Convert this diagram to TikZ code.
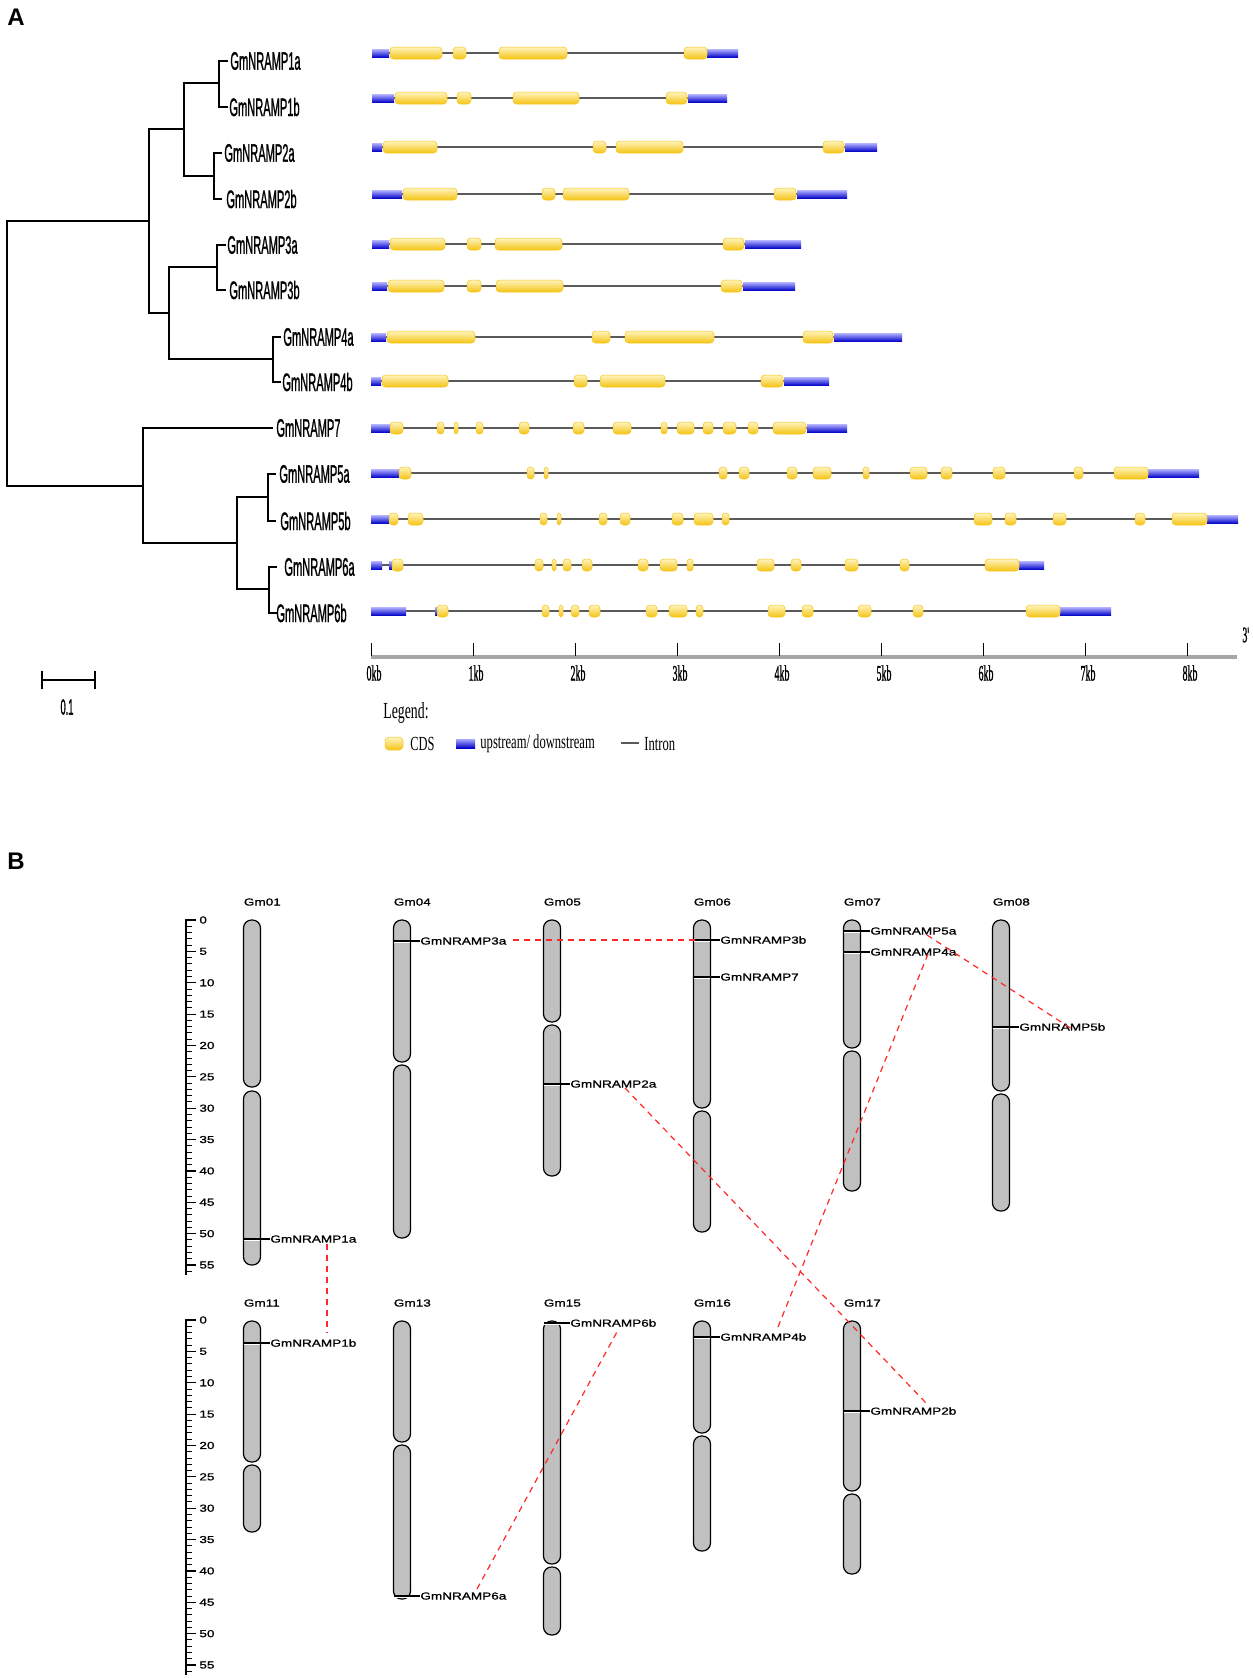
\documentclass[tikz,border=0pt]{standalone}
\usepackage{graphicx}
\usepackage{fontspec}
\setmainfont{Liberation Sans}
\newfontfamily\serifx{Liberation Serif}
\newfontfamily\treefont[FakeBold=1.6]{Liberation Sans}
\newfontfamily\kbfont[FakeBold=1.5]{Liberation Serif}
\newfontfamily\chrfont[FakeBold=0.8]{Liberation Sans}
\definecolor{cdstop}{RGB}{255,244,190}
\definecolor{cdsbot}{RGB}{245,196,20}
\definecolor{utrtop}{RGB}{170,170,255}
\definecolor{utrbot}{RGB}{0,0,200}
\definecolor{introngray}{RGB}{90,90,90}
\definecolor{chromgray}{RGB}{192,192,192}
\definecolor{linkred}{RGB}{255,40,40}
\newcommand{\tl}[1]{\scalebox{0.44}[1]{\treefont\fontsize{12.6}{14}\selectfont #1}}
\newcommand{\kbl}[1]{\scalebox{0.45}[1]{\kbfont\fontsize{11}{12}\selectfont #1}}
\newcommand{\lgl}[2]{\scalebox{#1}[1]{\serifx\fontsize{10}{12}\selectfont #2}}
\newcommand{\bl}[1]{\scalebox{1.33}[1]{\chrfont\fontsize{5.1}{6}\selectfont #1}}
\tikzset{
  tree/.style={line width=1pt, black},
  intron/.style={line width=0.9pt, introngray},
  cdsbox/.style={top color=cdstop, bottom color=cdsbot, draw=cdsbot, line width=0.25pt},
  utrbar/.style={top color=utrtop, bottom color=utrbot},
  chromo/.style={fill=chromgray, draw=black, line width=0.6pt, rounded corners=4pt},
  link/.style={linkred, dash pattern=on 3pt off 2.5pt, line width=0.6pt},
  tlab/.style={anchor=west, inner sep=0pt},
  blab/.style={anchor=west, inner sep=0pt},
  genetick/.style={black, line width=0.6pt},
}
\newcommand{\generow}[5]{%
  \draw[intron] (#2,#1) -- (#3,#1);
  \foreach \a/\b in {#4} {\shade[utrbar] (\a,#1-3.5) rectangle (\b,#1+4.5);}
  \foreach \a/\b in {#5} {\pgfmathsetmacro\rr{min(1.8,(\b-\a)/4.2)}
    \draw[cdsbox, rounded corners=\rr pt] (\a,#1-6) rectangle (\b,#1+6);}
}
\newcommand{\chromosome}[5]{%
  \draw[chromo] (#1-8.5,#2) rectangle (#1+8.5,#3);
  \draw[chromo] (#1-8.5,#4) rectangle (#1+8.5,#5);
}
\newcommand{\genemark}[4]{% x center, y, name, text
  \draw[white, line width=0.4pt] (#1-8,#2+1.4) -- (#1+8,#2+1.4);
  \draw[genetick] (#1-8.5,#2) -- (#1+17.5,#2);
  \node[blab] (#3) at (#1+18,#2) {\bl{#4}};
}
\newcommand{\ruler}[1]{%
  \draw[black, line width=0.6pt] (186,#1-1) -- (186,#1+355);
  \foreach \i in {0,...,56} {\draw[black, line width=0.5pt] (186,#1+\i*6.273) -- (192,#1+\i*6.273);}
  \foreach \i in {0,5,...,55} {\draw[black, line width=0.6pt] (186,#1+\i*6.273) -- (196,#1+\i*6.273);
    \node[blab] at (199,#1+\i*6.273) {\bl{\i}};}
}
\begin{document}
\begin{tikzpicture}[x=0.5pt,y=-0.5pt]
\useasboundingbox[fill=white] (0,0) rectangle (1253,1678);
% ---------- Panel A ----------
\node[font=\bfseries\fontsize{12}{14}\selectfont, inner sep=0pt] (A) at (16,17) {A};
% tree
\draw[tree] (143,221) -- (7,221) -- (7,486) -- (143,486);
\draw[tree] (7,221) -- (149,221);
\draw[tree] (184,129) -- (149,129) -- (149,313) -- (169,313);
\draw[tree] (219,83) -- (184,83) -- (184,176) -- (214,176);
\draw[tree] (228,61) -- (219,61) -- (219,107) -- (228,107);
\draw[tree] (222,153) -- (214,153) -- (214,199) -- (222,199);
\draw[tree] (217,267) -- (169,267) -- (169,359) -- (273,359);
\draw[tree] (226,245) -- (217,245) -- (217,290) -- (226,290);
\draw[tree] (281,337) -- (273,337) -- (273,382) -- (281,382);
\draw[tree] (273,428) -- (143,428) -- (143,543) -- (237,543);
\draw[tree] (268,497) -- (237,497) -- (237,589) -- (269,589);
\draw[tree] (276,474) -- (268,474) -- (268,521) -- (276,521);
\draw[tree] (277,567) -- (269,567) -- (269,613) -- (277,613);
\node[tlab] (t1a) at (230,61) {\tl{GmNRAMP1a}};
\node[tlab] (t1b) at (229,107) {\tl{GmNRAMP1b}};
\node[tlab] (t2a) at (224,153) {\tl{GmNRAMP2a}};
\node[tlab] (t2b) at (226,199) {\tl{GmNRAMP2b}};
\node[tlab] (t3a) at (227,245) {\tl{GmNRAMP3a}};
\node[tlab] (t3b) at (229,290) {\tl{GmNRAMP3b}};
\node[tlab] (t4a) at (283,337) {\tl{GmNRAMP4a}};
\node[tlab] (t4b) at (282,382) {\tl{GmNRAMP4b}};
\node[tlab] (t7)  at (276,428) {\tl{GmNRAMP7}};
\node[tlab] (t5a) at (279,474) {\tl{GmNRAMP5a}};
\node[tlab] (t5b) at (280,521) {\tl{GmNRAMP5b}};
\node[tlab] (t6a) at (284,567) {\tl{GmNRAMP6a}};
\node[tlab] (t6b) at (276,613) {\tl{GmNRAMP6b}};
% scale bar
\draw[tree, line width=1.3pt] (42,680) -- (95,680);
\draw[tree, line width=0.6pt] (42,671) -- (42,689);
\draw[tree, line width=0.6pt] (95,671) -- (95,689);
\node[inner sep=0pt] (sb) at (67,707) {\scalebox{0.42}[1]{\treefont\fontsize{11}{12}\selectfont 0.1}};
% gene structures
\generow{53}{372}{738}{372/389,707/738}{390/442,453/466,499/567,684/707}
\generow{98}{372}{727}{372/394,688/727}{395/447,457/471,513/579,666/687}
\generow{147}{372}{877}{372/382,845/877}{383/437,593/606,616/683,823/844}
\generow{194}{372}{847}{372/402,797/847}{403/457,542/555,563/629,774/796}
\generow{244}{372}{801}{372/389,745/801}{390/445,467/481,495/562,723/744}
\generow{286}{372}{795}{372/387,743/795}{388/444,467/481,496/563,721/742}
\generow{337}{371}{902}{371/386,834/902}{387/475,592/610,625/714,803/833}
\generow{381}{371}{829}{371/381,784/829}{382/448,574/587,600/665,761/783}
\generow{428}{371}{847}{371/390,807/847}{390/403,437/444,454/458,476/483,519/529,573/584,613/631,661/667,677/694,703/713,723/736,748/758,773/806}
\generow{473}{371}{1199}{371/399,1148/1199}{399/411,527/534,544/548,719/727,739/749,787/797,813/831,863/869,910/927,941/952,993/1005,1074/1083,1114/1148}
\generow{519}{371}{1238}{371/389,1207/1238}{389/398,408/423,540/547,557/561,599/607,620/630,672/683,694/713,722/729,974/992,1005/1016,1053/1066,1135/1145,1172/1207}
\draw[black, line width=1pt] (518,565) -- (552,565);
\generow{565}{371}{1044}{371/382,389/392,1019/1044}{392/403,535/543,552/556,563/571,582/592,638/648,660/677,687/693,757/774,791/801,845/858,900/909,985/1019}
\generow{611}{371}{1111}{371/406,435/437,1060/1111}{437/448,542/549,559/563,571/579,589/600,646/657,669/687,696/703,768/785,802/813,858/871,913/923,1026/1060}
% axis
\draw[line width=1.8pt, gray!70] (371,657) -- (1237,657);
\foreach \k in {0,...,8} {
  \draw[black, line width=0.5pt] (371+\k*102,643) -- (371+\k*102,656);
  \node[inner sep=0pt] at (374+\k*102,673) {\kbl{\k kb}};
}
\node[tlab] (three) at (1242,635) {\kbl{3'}};
% legend
\node[tlab] (leg) at (383,713) {\lgl{0.6}{\fontsize{11.5}{13}\selectfont Legend:}};
\draw[cdsbox, rounded corners=2pt] (385,737) rectangle (403,750);
\node[tlab] (lcds) at (410,744) {\lgl{0.62}{CDS}};
\shade[utrbar] (456,739) rectangle (475,748);
\node[tlab] (lutr) at (480,744) {\lgl{0.63}{upstream/ downstream}};
\draw[intron, line width=1.2pt] (621,743) -- (639,743);
\node[tlab] (lint) at (644,744) {\lgl{0.63}{Intron}};
% ---------- Panel B ----------
\node[font=\bfseries\fontsize{12}{14}\selectfont, inner sep=0pt] (B) at (16,861) {B};
\ruler{920}
\ruler{1320}
% chromosomes row 1
\chromosome{252}{920}{1087}{1091}{1265}
\chromosome{402}{920}{1062}{1065}{1238}
\chromosome{552}{920}{1022}{1025}{1176}
\chromosome{702}{920}{1108}{1111}{1232}
\chromosome{852}{920}{1048}{1051}{1191}
\chromosome{1001}{920}{1091}{1094}{1211}
% chromosomes row 2
\chromosome{252}{1321}{1462}{1465}{1532}
\chromosome{402}{1321}{1442}{1445}{1599}
\chromosome{552}{1321}{1564}{1567}{1635}
\chromosome{702}{1321}{1433}{1436}{1551}
\chromosome{852}{1321}{1491}{1494}{1574}
% chromosome names
\foreach \cx/\cy/\nm in {252/902/Gm01,402/902/Gm04,552/902/Gm05,702/902/Gm06,852/902/Gm07,1001/902/Gm08,252/1303/Gm11,402/1303/Gm13,552/1303/Gm15,702/1303/Gm16,852/1303/Gm17}
  {\node[blab] (\nm) at (\cx-8.5,\cy) {\bl{\nm}};}
% gene markers
\genemark{252}{1239}{g1a}{GmNRAMP1a}
\genemark{402}{941}{g3a}{GmNRAMP3a}
\genemark{552}{1084}{g2a}{GmNRAMP2a}
\genemark{702}{940}{g3b}{GmNRAMP3b}
\genemark{702}{977}{g7}{GmNRAMP7}
\genemark{852}{931}{g5a}{GmNRAMP5a}
\genemark{852}{952}{g4a}{GmNRAMP4a}
\genemark{1001}{1027}{g5b}{GmNRAMP5b}
\genemark{252}{1343}{g1b}{GmNRAMP1b}
\genemark{402}{1596}{g6a}{GmNRAMP6a}
\genemark{552}{1323}{g6b}{GmNRAMP6b}
\genemark{702}{1337}{g4b}{GmNRAMP4b}
\genemark{852}{1411}{g2b}{GmNRAMP2b}
% link ends
\coordinate (c1a) at (327,1244);
\coordinate (c1b) at (327,1333);
\coordinate (c3a) at (513,940);
\coordinate (c3b) at (700,940);
\coordinate (c2a) at (625,1088);
\coordinate (c2b) at (927,1404);
\coordinate (c4a) at (928,954);
\coordinate (c4b) at (778,1327);
\coordinate (c5a) at (927,935);
\coordinate (c5b) at (1075,1031);
\coordinate (c6a) at (477,1589);
\coordinate (c6b) at (618,1330);
\draw[link] (c1a) -- (c1b);
\draw[link] (c3a) -- (c3b);
\draw[link] (c2a) -- (c2b);
\draw[link] (c4a) -- (c4b);
\draw[link] (c5a) -- (c5b);
\draw[link] (c6a) -- (c6b);
\end{tikzpicture}
\end{document}
